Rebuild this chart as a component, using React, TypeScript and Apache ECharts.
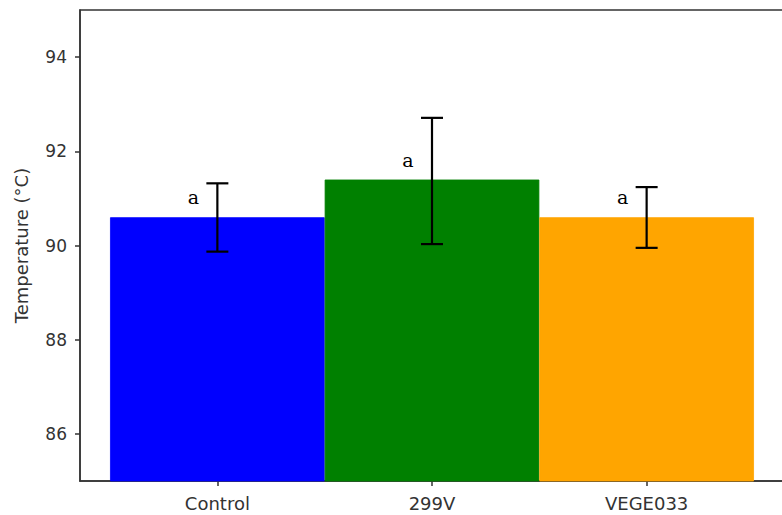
import React, { useEffect, useRef } from "react";
import * as echarts from "echarts";

const categories = ["Control", "299V", "VEGE033"];
const means = [90.6, 91.4, 90.6];
const errLow = [89.87, 90.03, 89.95];
const errHigh = [91.32, 92.71, 91.24];
const letters = ["a", "a", "a"];
const barColors = ["#0000ff", "#008000", "#ffa500"];
const yTicks = [86, 88, 90, 92, 94];
const xTicks = [0, 1, 2];

export default function App() {
  const ref = useRef<HTMLDivElement>(null);
  useEffect(() => {
    if (!ref.current) return;
    const chart = echarts.init(ref.current, undefined, { renderer: "svg" });
    const axisColor = "#333";
    chart.setOption({
      animation: false,
      grid: {
        left: 80,
        right: 6,
        top: 10,
        bottom: 34,
        show: true,
        borderColor: axisColor,
        borderWidth: 1.5,
        backgroundColor: "transparent",
      },
      xAxis: {
        type: "value",
        min: -0.64,
        max: 2.64,
        splitLine: { show: false },
        axisLine: { show: true, onZero: false, lineStyle: { color: axisColor, width: 1.5 } },
        axisTick: { show: true, customValues: xTicks, length: 5, lineStyle: { color: axisColor, width: 1.5 } },
        axisLabel: {
          customValues: xTicks,
          formatter: (v: number) => categories[Math.round(v)] ?? "",
          color: axisColor,
          fontSize: 18,
          fontFamily: "DejaVu Sans",
          margin: 13,
        },
      },
      yAxis: {
        type: "value",
        min: 85,
        max: 95,
        name: "Temperature (°C)",
        nameLocation: "middle",
        nameRotate: 90,
        nameGap: 50,
        nameTextStyle: { color: axisColor, fontSize: 18, fontFamily: "DejaVu Sans" },
        splitLine: { show: false },
        axisLine: { show: true, onZero: false, lineStyle: { color: axisColor, width: 1.5 } },
        axisTick: { show: true, customValues: yTicks, length: 5, lineStyle: { color: axisColor, width: 1.5 } },
        axisLabel: {
          customValues: yTicks,
          color: axisColor,
          fontSize: 17,
          fontFamily: "DejaVu Sans",
          margin: 13,
        },
      },
      series: [
        {
          type: "bar",
          barWidth: "100%",
          data: means.map((m, i) => ({
            value: [i, m],
            itemStyle: { color: barColors[i], borderColor: barColors[i], borderWidth: 0.8 },
          })),
        },
        {
          type: "custom",
          data: means.map((m, i) => [i, errLow[i], errHigh[i], m]),
          z: 10,
          renderItem: (params: any, api: any) => {
            const i = api.value(0);
            const lo = api.coord([i, api.value(1)]);
            const hi = api.coord([i, api.value(2)]);
            const mid = api.coord([i, api.value(3)]);
            const cap = 11;
            const style = { stroke: "#000", lineWidth: 2.2 };
            return {
              type: "group",
              children: [
                { type: "line", shape: { x1: lo[0], y1: lo[1], x2: hi[0], y2: hi[1] }, style },
                { type: "line", shape: { x1: hi[0] - cap, y1: hi[1], x2: hi[0] + cap, y2: hi[1] }, style },
                { type: "line", shape: { x1: lo[0] - cap, y1: lo[1], x2: lo[0] + cap, y2: lo[1] }, style },
                {
                  type: "text",
                  x: mid[0] - 24,
                  y: mid[1] - 20,
                  style: {
                    text: letters[params.dataIndex],
                    fill: "#000",
                    fontSize: 19,
                    fontFamily: "DejaVu Serif",
                    align: "center",
                    verticalAlign: "middle",
                  },
                },
              ],
            };
          },
        },
      ],
    });
    return () => chart.dispose();
  }, []);
  return (
    <div
      style={{ position: "fixed", left: 0, top: 0, width: 782, height: 515, overflow: "hidden", background: "#fff" }}
    >
      <div ref={ref} style={{ width: 790, height: 515 }} />
    </div>
  );
}
